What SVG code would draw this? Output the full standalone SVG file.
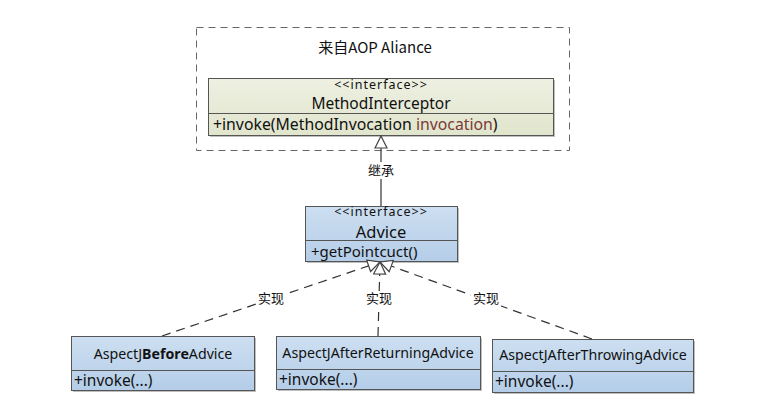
<svg xmlns="http://www.w3.org/2000/svg" width="757" height="417" viewBox="0 0 757 417">
<defs>
<linearGradient id="gGreen" x1="0" y1="0" x2="0" y2="1">
<stop offset="0" stop-color="#eef0e2"/><stop offset="1" stop-color="#e0e5cc"/>
</linearGradient>
<linearGradient id="gBlue" x1="0" y1="0" x2="0" y2="1">
<stop offset="0" stop-color="#cddff1"/><stop offset="1" stop-color="#b4cde8"/>
</linearGradient>
<marker id="tri" viewBox="0 0 14 14" refX="13" refY="7" markerWidth="14" markerHeight="14" markerUnits="userSpaceOnUse" orient="auto">
<path d="M1,1 L13,7 L1,13 Z" fill="#fff" stroke="#444" stroke-width="1.2"/>
</marker>
</defs>
<style>
text{font-family:"Noto Sans","Liberation Sans","Noto Sans CJK SC",sans-serif;fill:#111}
.cjk{font-family:"Noto Sans CJK SC","Noto Sans",sans-serif;font-size:13px}
.box{stroke:#555;stroke-width:1}
.green{fill:url(#gGreen)}
.blue{fill:url(#gBlue)}
.shadow{fill:#bfbfbf}
.div{stroke:#555;stroke-width:1}
.st{font-size:12.5px;letter-spacing:1px}
.nm{font-size:14.2px}
.mt{font-size:15.5px}
.conn{fill:none;stroke:#333;stroke-width:1.2}
.dash{stroke-dasharray:9,6}
.lbl{fill:#fff}
</style>
<g id="aop-frame">
<rect x="196.5" y="27.5" width="373" height="123" fill="none" stroke="#666" stroke-width="1" stroke-dasharray="7,5"/>
<text x="375" y="53" class="cjk" text-anchor="middle" style="font-size:15px">来自AOP Aliance</text>
</g>
<g id="MethodInterceptor">
<rect x="210" y="80" width="345" height="57" class="shadow"/>
<rect x="208.5" y="78.5" width="345" height="57" class="box green"/>
<line x1="208.5" y1="113.5" x2="553.5" y2="113.5" class="div"/>
<text x="381" y="88.5" text-anchor="middle" class="st">&lt;&lt;interface&gt;&gt;</text>
<text x="381" y="109" text-anchor="middle" font-size="15.5">MethodInterceptor</text>
<text x="213" y="130" font-size="15.8">+invoke(MethodInvocation <tspan fill="#7b3a3a">invocation</tspan>)</text>
</g>
<g id="Advice">
<rect x="307" y="208" width="152" height="55" class="shadow"/>
<rect x="305.5" y="206.5" width="152" height="55" class="box blue"/>
<line x1="305.5" y1="240.5" x2="457.5" y2="240.5" class="div"/>
<text x="381" y="215.5" text-anchor="middle" class="st">&lt;&lt;interface&gt;&gt;</text>
<text x="381" y="237.5" text-anchor="middle" font-size="16.5">Advice</text>
<text x="311" y="257" font-size="15">+getPointcuct()</text>
</g>
<g id="AspectJBeforeAdvice">
<rect x="73" y="338" width="183" height="54" class="shadow"/>
<rect x="71.5" y="336.5" width="183" height="54" class="box blue"/>
<line x1="71.5" y1="370.5" x2="254.5" y2="370.5" class="div"/>
<text x="163" y="359" text-anchor="middle" class="nm">AspectJ<tspan font-weight="bold">Before</tspan>Advice</text>
<text x="74" y="386" class="mt">+invoke(...)</text>
</g>
<g id="AspectJAfterReturningAdvice">
<rect x="278" y="338" width="204" height="53" class="shadow"/>
<rect x="276.5" y="336.5" width="204" height="53" class="box blue"/>
<line x1="276.5" y1="369.5" x2="480.5" y2="369.5" class="div"/>
<text x="378" y="358" text-anchor="middle" class="nm">AspectJAfterReturningAdvice</text>
<text x="279" y="385" class="mt">+invoke(...)</text>
</g>
<g id="AspectJAfterThrowingAdvice">
<rect x="494" y="341" width="201" height="53" class="shadow"/>
<rect x="492.5" y="339.5" width="201" height="53" class="box blue"/>
<line x1="492.5" y1="371.5" x2="693.5" y2="371.5" class="div"/>
<text x="593" y="360" text-anchor="middle" class="nm">AspectJAfterThrowingAdvice</text>
<text x="495" y="387" class="mt">+invoke(...)</text>
</g>
<g id="connectors">
<line x1="381" y1="206" x2="381" y2="136" class="conn" marker-end="url(#tri)"/>
<rect x="364" y="162" width="34" height="17" class="lbl"/>
<text x="381" y="175" text-anchor="middle" class="cjk">继承</text>
<line x1="162" y1="336" x2="380" y2="262" class="conn dash" marker-end="url(#tri)"/>
<line x1="378" y1="336" x2="380" y2="262" class="conn dash" marker-end="url(#tri)"/>
<line x1="592" y1="339" x2="380" y2="262" class="conn dash" marker-end="url(#tri)"/>
<rect x="256" y="291" width="30" height="16" class="lbl"/>
<text x="271" y="303" text-anchor="middle" class="cjk">实现</text>
<rect x="364" y="291" width="30" height="16" class="lbl"/>
<text x="379" y="303" text-anchor="middle" class="cjk">实现</text>
<rect x="471" y="291" width="30" height="16" class="lbl"/>
<text x="486" y="303" text-anchor="middle" class="cjk">实现</text>
</g>
</svg>
